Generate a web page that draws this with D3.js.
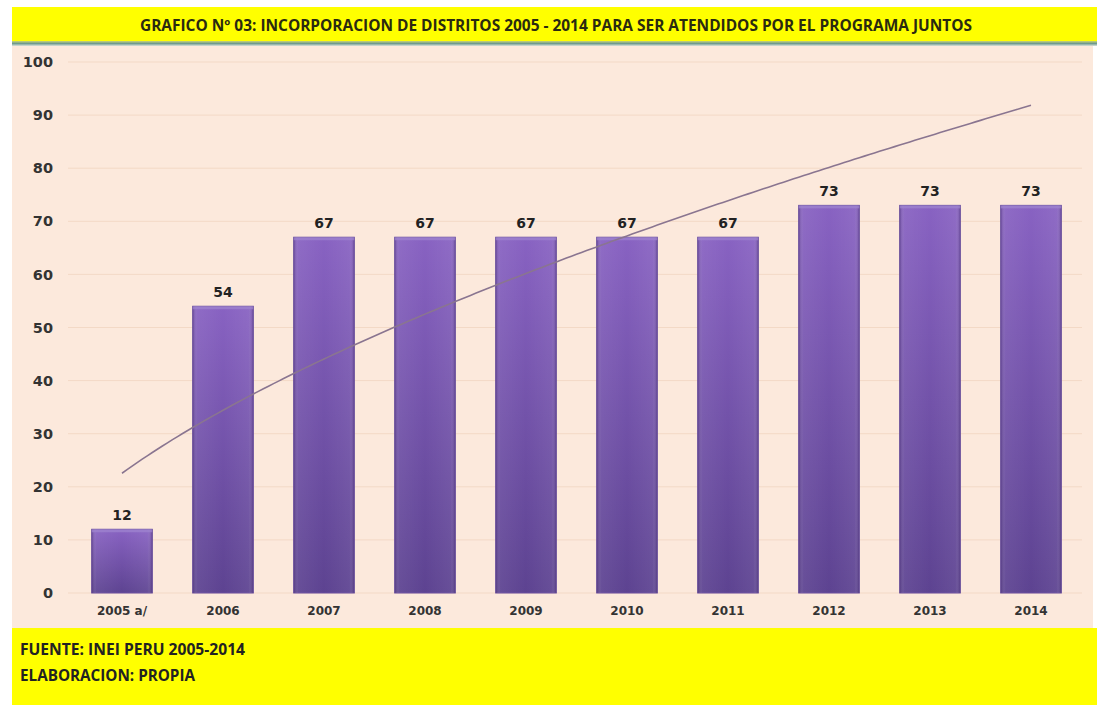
<!DOCTYPE html>
<html><head><meta charset="utf-8">
<script src="https://cdn.jsdelivr.net/npm/d3@7"></script>
<style>html,body{margin:0;padding:0;background:#fff;}svg{display:block;}</style>
</head><body>
<svg id="chart" width="1097" height="707"></svg>
<script>
const categories = ["2005 a/","2006","2007","2008","2009","2010","2011","2012","2013","2014"];
const values = [12,54,67,67,67,67,67,73,73,73];
const yTicks = [0,10,20,30,40,50,60,70,80,90,100];
const titleText = "GRAFICO Nº 03: INCORPORACION DE DISTRITOS 2005  - 2014 PARA SER ATENDIDOS  POR EL PROGRAMA JUNTOS";
const footerLines = ["FUENTE: INEI PERU 2005-2014","ELABORACION: PROPIA"];

const svg = d3.select("#chart");
const defs = svg.append("defs");
const FONT = "'Liberation Sans Narrow','Open Sans','DejaVu Sans Condensed',sans-serif";
const FONT2 = "'DejaVu Sans','Verdana',sans-serif";

// bar gradient
const g1 = defs.append("linearGradient").attr("id","barG").attr("x1",0).attr("y1",0).attr("x2",0).attr("y2",1);
g1.append("stop").attr("offset","0%").attr("stop-color","#8862c2");
g1.append("stop").attr("offset","100%").attr("stop-color","#5d4391");
const g2 = defs.append("linearGradient").attr("id","barH").attr("x1",0).attr("y1",0).attr("x2",1).attr("y2",0);
g2.append("stop").attr("offset","0%").attr("stop-color","#3a2060").attr("stop-opacity",0.35);
g2.append("stop").attr("offset","8%").attr("stop-color","#ffffff").attr("stop-opacity",0.06);
g2.append("stop").attr("offset","50%").attr("stop-color","#ffffff").attr("stop-opacity",0.0);
g2.append("stop").attr("offset","92%").attr("stop-color","#ffffff").attr("stop-opacity",0.06);
g2.append("stop").attr("offset","100%").attr("stop-color","#3a2060").attr("stop-opacity",0.35);
const g3 = defs.append("linearGradient").attr("id","strip").attr("x1",0).attr("y1",0).attr("x2",0).attr("y2",1);
g3.append("stop").attr("offset","0%").attr("stop-color","#c9d47a");
g3.append("stop").attr("offset","50%").attr("stop-color","#6f9a8c");
g3.append("stop").attr("offset","100%").attr("stop-color","#d9e2dc");

// panels
svg.append("rect").attr("x",12).attr("y",46).attr("width",1081).attr("height",582).attr("fill","#fce9dc");
svg.append("rect").attr("x",12).attr("y",7).attr("width",1085).attr("height",35).attr("fill","#ffff00");
svg.append("rect").attr("x",12).attr("y",41).attr("width",1085).attr("height",5).attr("fill","url(#strip)");
svg.append("rect").attr("x",12).attr("y",628).attr("width",1085).attr("height",77).attr("fill","#ffff00");

svg.append("text").attr("x",556).attr("y",31).attr("text-anchor","middle")
  .attr("font-family",FONT).attr("font-weight","bold").attr("font-size",16)
  .attr("fill","#2a2a10").attr("textLength",832).attr("lengthAdjust","spacingAndGlyphs")
  .text(titleText);

footerLines.forEach((t,i)=>{
  svg.append("text").attr("x",20).attr("y",655+i*26)
    .attr("font-family",FONT).attr("font-weight","bold").attr("font-size",16)
    .attr("fill","#222").attr("textLength",i===0?225:175).attr("lengthAdjust","spacingAndGlyphs").text(t);
});

// scales
const x = d3.scaleBand().domain(categories).range([71.5,1081.5]).paddingInner(0.4).paddingOuter(0.2);
const y = d3.scaleLinear().domain([0,100]).range([593,62]);

// grid
svg.append("g").selectAll("line").data(yTicks).join("line")
  .attr("x1",68).attr("x2",1082).attr("y1",d=>y(d)).attr("y2",d=>y(d))
  .attr("stroke","#f3d9c6").attr("stroke-width",1);

// y axis
const yAxis = d3.axisLeft(y).tickValues(yTicks).tickSize(0).tickPadding(0);
const ya = svg.append("g").attr("transform","translate(53,0)").call(yAxis);
ya.select(".domain").remove();
ya.selectAll("text").attr("font-family",FONT2).attr("font-weight","bold").attr("font-size",14.5).attr("fill","#333");

// x axis
const xAxis = d3.axisBottom(x).tickSize(0).tickPadding(0);
const xa = svg.append("g").attr("transform","translate(0,606)").call(xAxis);
xa.select(".domain").remove();
xa.selectAll("text").attr("font-family",FONT2).attr("font-weight","bold").attr("font-size",12).attr("fill","#333");

// bars
const bars = svg.append("g");
const data = categories.map((c,i)=>({c,v:values[i]}));
bars.selectAll("rect.b").data(data).join("rect").attr("class","b")
  .attr("x",d=>x(d.c)).attr("y",d=>y(d.v)).attr("width",x.bandwidth()).attr("height",d=>y(0)-y(d.v))
  .attr("fill","url(#barG)").attr("stroke","#6a4fa0").attr("stroke-width",1);
bars.selectAll("rect.h").data(data).join("rect").attr("class","h")
  .attr("x",d=>x(d.c)).attr("y",d=>y(d.v)).attr("width",x.bandwidth()).attr("height",d=>y(0)-y(d.v))
  .attr("fill","url(#barH)");
bars.selectAll("rect.t").data(data).join("rect").attr("class","t")
  .attr("x",d=>x(d.c)).attr("y",d=>y(d.v)).attr("width",x.bandwidth()).attr("height",3)
  .attr("fill","#a086d0").attr("opacity",0.7);

// labels
svg.append("g").selectAll("text").data(data).join("text")
  .attr("x",d=>x(d.c)+x.bandwidth()/2).attr("y",d=>y(d.v)-9).attr("text-anchor","middle")
  .attr("font-family",FONT2).attr("font-weight","bold").attr("font-size",14).attr("fill","#222")
  .text(d=>d.v);

// power trendline computed from data (least squares on ln-ln)
const n = values.length;
const lx = values.map((v,i)=>Math.log(i+1)), ly = values.map(v=>Math.log(v));
const mx = d3.mean(lx), my = d3.mean(ly);
const b = d3.sum(lx.map((a,i)=>(a-mx)*(ly[i]-my))) / d3.sum(lx.map(a=>(a-mx)*(a-mx)));
const A = Math.exp(my - b*mx);
const trend = d3.range(1, n+0.0001, 0.05).map(t=>({t, v:A*Math.pow(t,b)}));
const xc = t => x(categories[0]) + x.bandwidth()/2 + (t-1)*x.step();
svg.append("path").datum(trend)
  .attr("d", d3.line().x(d=>xc(d.t)).y(d=>y(d.v)).curve(d3.curveLinear))
  .attr("fill","none").attr("stroke","#8a7590").attr("stroke-width",1.6);
</script>
</body></html>
